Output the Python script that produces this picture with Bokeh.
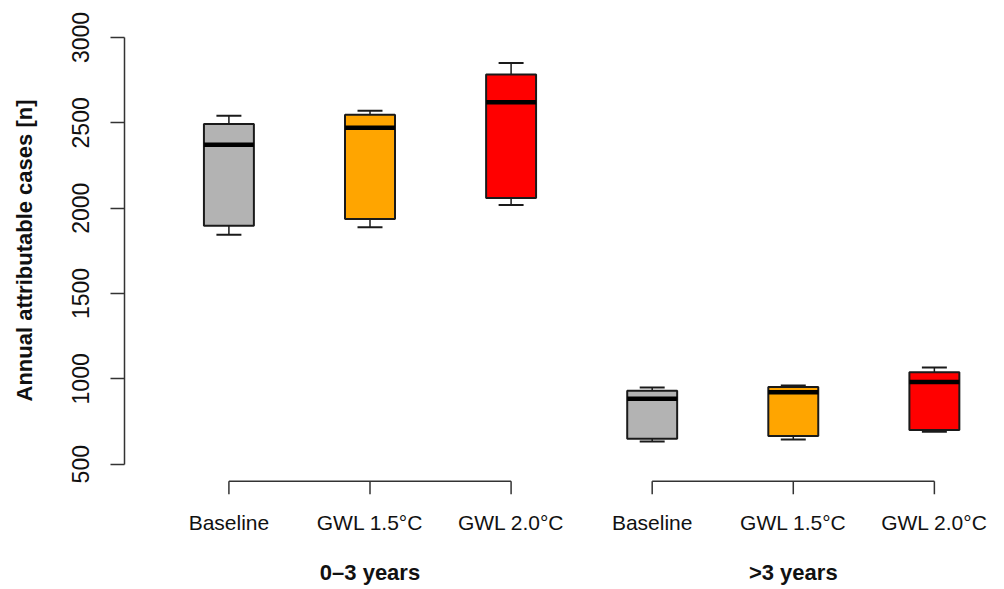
from bokeh.plotting import figure
from bokeh.models import Range1d, LinearAxis, FixedTicker, ColumnDataSource
from bokeh.embed import file_html
from bokeh.resources import INLINE

# ---- data ----
groups = ["0–3 years", ">3 years"]
scenarios = ["Baseline", "GWL 1.5°C", "GWL 2.0°C"]
colors = ["#B3B3B3", "#FFA500", "#FF0000"]
whisker_low = [1844, 1889, 2018, 633, 645, 690]
q1 = [1897, 1936, 2059, 649, 665, 701]
median = [2371, 2471, 2621, 883, 922, 981]
q3 = [2493, 2547, 2783, 930, 953, 1039]
whisker_high = [2541, 2571, 2850, 949, 961, 1067]
y_ticks = [500, 1000, 1500, 2000, 2500, 3000]

FONT = "Liberation Sans"
W, H = 1004, 589
Y0, Y1 = 287.3, 3216.8
FRAME_H = 500

n = len(q1)
pos = [i + 1 for i in range(n)]
fill = [colors[i % len(scenarios)] for i in range(n)]
box_w = 0.354
cap_w = 0.177

p = figure(width=W, height=H, output_backend="svg", toolbar_location=None,
           x_range=Range1d(0.26, 6.497), y_range=Range1d(Y0, Y1),
           min_border_left=124, min_border_right=0, min_border_top=0,
           min_border_bottom=89, x_axis_location=None, y_axis_location=None)
p.outline_line_color = None
p.grid.grid_line_color = None
p.background_fill_color = "white"

src = ColumnDataSource(dict(x=pos, lo=whisker_low, q1=q1, med=median, q3=q3,
                            hi=whisker_high, fill=fill,
                            xl=[x - box_w / 2 for x in pos], xr=[x + box_w / 2 for x in pos],
                            cl=[x - cap_w / 2 for x in pos], cr=[x + cap_w / 2 for x in pos]))

LC = "#1a1a1a"
# whiskers
p.segment(x0="x", y0="q3", x1="x", y1="hi", source=src, line_color=LC, line_width=1.5)
p.segment(x0="x", y0="q1", x1="x", y1="lo", source=src, line_color=LC, line_width=1.5)
# caps
p.segment(x0="cl", y0="hi", x1="cr", y1="hi", source=src, line_color=LC, line_width=2)
p.segment(x0="cl", y0="lo", x1="cr", y1="lo", source=src, line_color=LC, line_width=2)
# boxes
p.vbar(x="x", width=box_w, top="q3", bottom="q1", source=src, fill_color="fill",
       line_color=LC, line_width=2)
# medians
p.segment(x0="xl", y0="med", x1="xr", y1="med", source=src, line_color="black", line_width=4.5)

# bracket-style group axes
upp = (Y1 - Y0) / FRAME_H
y_br = y_ticks[0] - 17 * upp
y_br_tick = y_ticks[0] - 30 * upp
k = len(scenarios)
for g in range(len(groups)):
    gp = pos[g * k:(g + 1) * k]
    p.segment(x0=[gp[0]], y0=[y_br], x1=[gp[-1]], y1=[y_br], line_color="#333333", line_width=1.5)
    p.segment(x0=gp, y0=[y_br] * k, x1=gp, y1=[y_br_tick] * k, line_color="#333333", line_width=1.5)

# y axis
yax = LinearAxis(ticker=FixedTicker(ticks=y_ticks), bounds=(y_ticks[0], y_ticks[-1]),
                 axis_label="Annual attributable cases [n]")
yax.axis_line_color = "#333333"
yax.axis_line_width = 1.5
yax.major_tick_line_color = "#333333"
yax.major_tick_line_width = 1.5
yax.major_tick_out = 14
yax.major_tick_in = 0
yax.minor_tick_line_color = None
yax.major_label_orientation = "vertical"
yax.major_label_text_font = FONT
yax.major_label_text_font_size = "23px"
yax.major_label_text_color = "#111111"
yax.major_label_standoff = 21
yax.axis_label_text_font = FONT
yax.axis_label_text_font_size = "22px"
yax.axis_label_text_font_style = "bold"
yax.axis_label_text_color = "#111111"
yax.axis_label_standoff = 33
p.add_layout(yax, "left")

# category labels
xax = LinearAxis(ticker=FixedTicker(ticks=pos),
                 major_label_overrides={x: scenarios[i % k] for i, x in enumerate(pos)})
xax.axis_line_color = None
xax.major_tick_line_color = None
xax.minor_tick_line_color = None
xax.major_tick_out = 0
xax.major_tick_in = 0
xax.major_label_standoff = 10
xax.major_label_text_font = FONT
xax.major_label_text_font_size = "21px"
xax.major_label_text_color = "#111111"
p.add_layout(xax, "below")

# group labels
gpos = [sum(pos[g * k:(g + 1) * k]) / k for g in range(len(groups))]
gax = LinearAxis(ticker=FixedTicker(ticks=gpos),
                 major_label_overrides={x: groups[i] for i, x in enumerate(gpos)})
gax.axis_line_color = None
gax.major_tick_line_color = None
gax.minor_tick_line_color = None
gax.major_tick_out = 0
gax.major_tick_in = 0
gax.major_label_standoff = 23
gax.major_label_text_font = FONT
gax.major_label_text_font_size = "22px"
gax.major_label_text_font_style = "bold"
gax.major_label_text_color = "#111111"
p.add_layout(gax, "below")

open("out.html", "w").write(file_html(p, INLINE))
